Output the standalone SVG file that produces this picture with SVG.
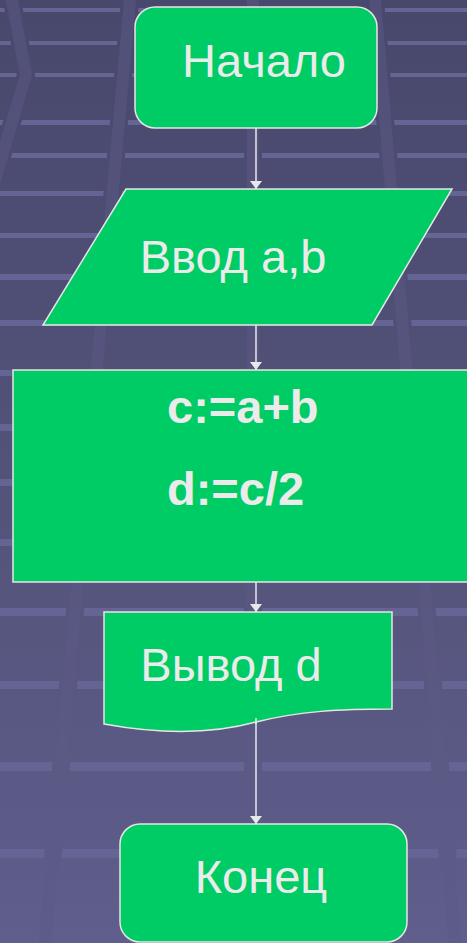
<svg xmlns="http://www.w3.org/2000/svg" width="467" height="943" viewBox="0 0 467 943">
  <defs>
    <linearGradient id="bg" gradientUnits="userSpaceOnUse" x1="0" y1="0" x2="0" y2="943">
      <stop offset="0" stop-color="#48476c"/>
      <stop offset="0.5" stop-color="#535279"/>
      <stop offset="1" stop-color="#5f5e8c"/>
    </linearGradient>
    <marker id="arr" viewBox="0 0 8 12" refX="8" refY="6" markerWidth="8" markerHeight="12" markerUnits="userSpaceOnUse" orient="auto">
      <path d="M0,0 L8,6 L0,12 Z" fill="#e8e8e8"/>
    </marker>
  </defs>
  <style>
    .shape { fill: #00cc66; stroke: #e6e6e6; stroke-width: 1.5; }
    .lbl { font-family: "Liberation Sans", Arial, sans-serif; font-size: 47px; fill: #ebebeb; }
    .bold { font-weight: bold; font-size: 47px; }
    .conn { stroke: #e8e8e8; stroke-width: 1.5; fill: none; }
    .stripe { fill: #656595; }
    .cut { stroke: url(#bg); fill: none; stroke-width: 18; }
    .band { stroke: #5b5a85; stroke-opacity: 0.5; fill: none; stroke-width: 12; }
  </style>

  <g id="background">
    <rect x="0" y="0" width="467" height="943" fill="url(#bg)"/>
    <rect class="stripe" x="0" y="8" width="467" height="4"/>
    <rect class="stripe" x="0" y="41" width="467" height="4"/>
    <rect class="stripe" x="0" y="73" width="467" height="4"/>
    <rect class="stripe" x="0" y="120" width="467" height="5"/>
    <rect class="stripe" x="0" y="153" width="467" height="5"/>
    <rect class="stripe" x="0" y="191" width="467" height="5"/>
    <rect class="stripe" x="0" y="233" width="467" height="5"/>
    <rect class="stripe" x="0" y="274" width="467" height="6"/>
    <rect class="stripe" x="0" y="320" width="467" height="6"/>
    <rect class="stripe" x="0" y="370" width="467" height="6"/>
    <rect class="stripe" x="0" y="424" width="467" height="7"/>
    <rect class="stripe" x="0" y="479" width="467" height="7"/>
    <rect class="stripe" x="0" y="539" width="467" height="7"/>
    <rect class="stripe" x="0" y="608" width="467" height="8"/>
    <rect class="stripe" x="0" y="681" width="467" height="8"/>
    <rect class="stripe" x="0" y="762" width="467" height="9"/>
    <rect class="stripe" x="0" y="849" width="467" height="9"/>
    <path class="cut" d="M11,-5 L26,75 L-5,180"/>
    <path class="cut" d="M130,0 L45,943"/>
    <path class="cut" d="M253,0 L253,943"/>
    <path class="cut" d="M375,0 L455,943"/>
    <path class="band" d="M11,-5 L26,75 L-5,180"/>
    <path class="band" d="M130,0 L45,943"/>
    <path class="band" d="M253,0 L253,943"/>
    <path class="band" d="M375,0 L455,943"/>
  </g>

  <g id="connectors">
    <line class="conn" x1="256" y1="128" x2="256" y2="189" marker-end="url(#arr)"/>
    <line class="conn" x1="256" y1="325" x2="256" y2="370" marker-end="url(#arr)"/>
    <line class="conn" x1="256" y1="582" x2="256" y2="612" marker-end="url(#arr)"/>
    <line class="conn" x1="256" y1="718" x2="256" y2="824" marker-end="url(#arr)"/>
  </g>

  <g id="start">
    <rect class="shape" x="135" y="7" width="242" height="121" rx="20" ry="20"/>
    <text class="lbl" x="264" y="77" text-anchor="middle">Начало</text>
  </g>

  <g id="input">
    <polygon class="shape" points="126,189 452,189 372,325 43,325"/>
    <text class="lbl" x="233" y="273" text-anchor="middle">Ввод a,b</text>
  </g>

  <g id="process">
    <rect class="shape" x="13" y="370" width="470" height="212"/>
    <text class="lbl bold" x="167" y="423">c:=a+b</text>
    <text class="lbl bold" x="167" y="505">d:=c/2</text>
  </g>

  <g id="output">
    <path class="shape" d="M104,612 L392,612 L392,709 C340,709 300,711 256,722 C220,732 170,736 104,724 Z"/>
    <text class="lbl" x="231" y="681" text-anchor="middle">Вывод d</text>
    <line class="conn" x1="256" y1="718" x2="256" y2="724"/>
  </g>

  <g id="end">
    <rect class="shape" x="120" y="824" width="287" height="118" rx="20" ry="20"/>
    <text class="lbl" x="261" y="893" text-anchor="middle">Конец</text>
  </g>
</svg>
